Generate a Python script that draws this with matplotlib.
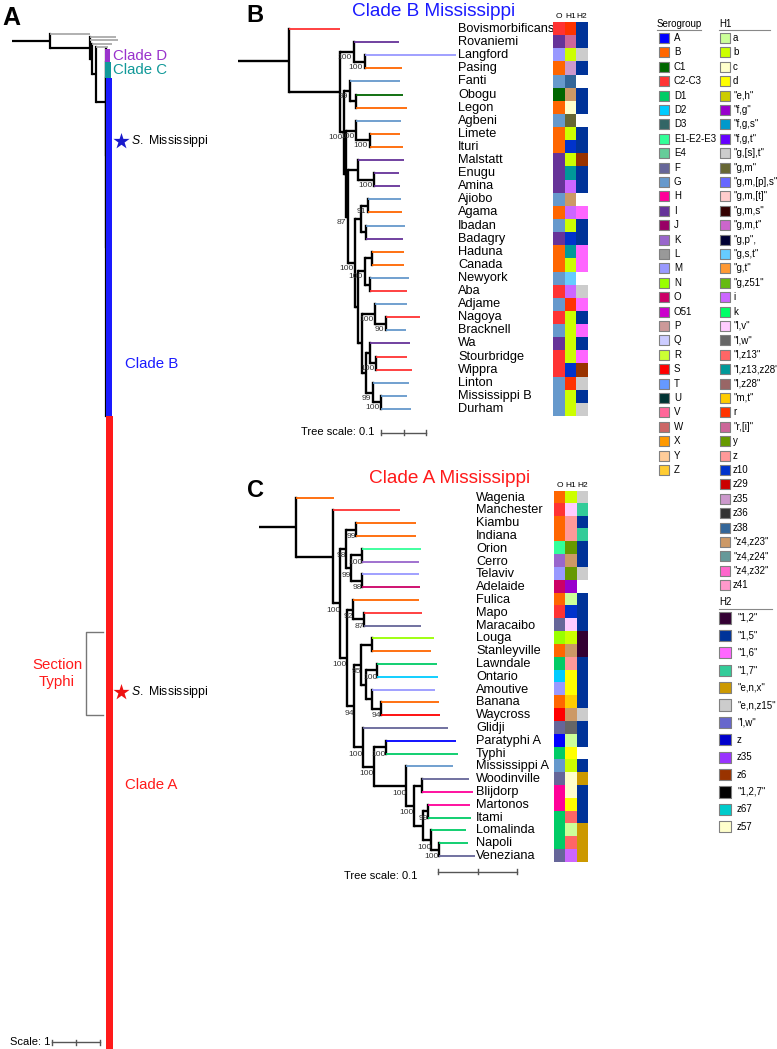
#!/usr/bin/env python

import numpy as np
import matplotlib
matplotlib.use('Agg')
from matplotlib import pyplot as plt
from matplotlib.colors import to_rgb

plt.rcParams['font.family'] = ['Liberation Sans', 'DejaVu Sans']
plt.rcParams['mathtext.fontset'] = 'custom'
plt.rcParams['mathtext.it'] = 'Liberation Sans:italic'
plt.rcParams['mathtext.rm'] = 'Liberation Sans'

W, H = 777, 1049

# ---------------- legend data ----------------
sero_names = ['A', 'B', 'C1', 'C2-C3', 'D1', 'D2', 'D3', 'E1-E2-E3', 'E4', 'F', 'G', 'H', 'I', 'J',
              'K', 'L', 'M', 'N', 'O', 'O51', 'P', 'Q', 'R', 'S', 'T', 'U', 'V', 'W', 'X', 'Y', 'Z']
sero_colors = ['#0000ff', '#ff6600', '#006600', '#ff3333', '#00cc66', '#00ccff', '#336666', '#33ff99',
               '#66cc99', '#666699', '#6699cc', '#ff0099', '#663399', '#990066', '#9966cc', '#999999',
               '#9999ff', '#99ff00', '#cc0066', '#cc00cc', '#cc9999', '#ccccff', '#ccff33', '#ff0000',
               '#6699ff', '#003333', '#ff6699', '#cc6666', '#ff9900', '#ffcc99', '#ffcc33']

h1_names = ['a', 'b', 'c', 'd', 'e,h', 'f,g', 'f,g,s', 'f,g,t', 'g,[s],t', 'g,m', 'g,m,[p],s', 'g,m,[t]',
            'g,m,s', 'g,m,t', 'g,p', 'g,s,t', 'g,t', 'g,z51', 'i', 'k', 'l,v', 'l,w', 'l,z13', 'l,z13,z28',
            'l,z28', 'm,t', 'r', 'r,[i]', 'y', 'z', 'z10', 'z29', 'z35', 'z36', 'z38', 'z4,z23', 'z4,z24',
            'z4,z32', 'z41']
h1_colors = ['#ccff99', '#ccff00', '#ffffcc', '#ffff00', '#cccc00', '#9900cc', '#0099cc', '#6600ff',
             '#cccccc', '#666633', '#6666ff', '#ffcccc', '#330000', '#cc66cc', '#000033', '#66ccff',
             '#ff9933', '#66bb11', '#cc66ff', '#00ff66', '#ffccff', '#666666', '#ff6666', '#009999',
             '#996666', '#ffcc00', '#ff3300', '#cc6699', '#669900', '#ff9999', '#0033cc', '#cc0000',
             '#cc99cc', '#333333', '#336699', '#cc9966', '#669999', '#ff66cc', '#ff99cc']

h2_names = ['1,2', '1,5', '1,6', '1,7', 'e,n,x', 'e,n,z15', 'l,w', 'z', 'z35', 'z6', '1,2,7', 'z67', 'z57']
h2_colors = ['#330033', '#003399', '#ff66ff', '#33cc99', '#cc9900', '#cccccc', '#6666cc', '#0000cc',
             '#9933ff', '#993300', '#000000', '#00cccc', '#ffffcc']

# ---------------- panel B: clade B Mississippi ----------------
b_newick = ("(Bovismorbificans:0.1126,((Rovaniemi:0.1007,(Langford:0.2037,Pasing:0.0837)100:0.0244)100:0.0311,"
            "((Fanti:0.1126,(Obogu:0.1037,Legon:0.1126):0.0148)99:0.0126,"
            "((Agbeni:0.1000,(Limete:0.0667,Ituri:0.0741)100:0.0296)100:0.0222,"
            "((Malstatt:0.1022,(Enugu:0.0556,Amina:0.0570)100:0.0356):0.0215,"
            "(((Ajiobo:0.0741,Agama:0.0763)91:0.0163,(Ibadan:0.0881,Badagry:0.0830):0.0111):0.0119,"
            "(((Haduna:0.0704,Canada:0.0704):0.0170,(Newyork:0.0867,Aba:0.0837):0.0111)100:0.0141,"
            "((Adjame:0.0704,(Nagoya:0.0741,Bracknell:0.0430)90:0.0244)100:0.0289,"
            "((Wa:0.0874,(Stourbridge:0.0689,Wippra:0.0793)100:0.0133):0.0104,"
            "(Linton:0.0793,(Mississippi_B:0.0570,Durham:0.0667)100:0.0185)99:0.0163):0.0074"
            "):0.0089):0.0067)100:0.0156)87:0.0044):0.0052)100:0.0096):0.1126):0.1133;")

b_names = ['Bovismorbificans', 'Rovaniemi', 'Langford', 'Pasing', 'Fanti', 'Obogu', 'Legon', 'Agbeni',
           'Limete', 'Ituri', 'Malstatt', 'Enugu', 'Amina', 'Ajiobo', 'Agama', 'Ibadan', 'Badagry',
           'Haduna', 'Canada', 'Newyork', 'Aba', 'Adjame', 'Nagoya', 'Bracknell', 'Wa', 'Stourbridge',
           'Wippra', 'Linton', 'Mississippi B', 'Durham']
b_o = ['C2-C3', 'I', 'M', 'B', 'G', 'C1', 'B', 'G', 'B', 'B', 'I', 'I', 'I', 'G', 'B', 'G', 'I',
       'B', 'B', 'G', 'C2-C3', 'G', 'C2-C3', 'G', 'I', 'C2-C3', 'C2-C3', 'G', 'G', 'G']
b_h1 = ['r', 'r,[i]', 'b', 'z35', 'z38', 'z4,z23', 'c', 'g,m', 'b', 'z10', 'b', 'l,z13,z28', 'i',
        'z4,z23', 'i', 'b', 'z10', 'l,z13,z28', 'b', 'g,s,t', 'i', 'r', 'b', 'b', 'b', 'b', 'z10',
        'r', 'b', 'b']
b_h2 = ['1,5', '1,5', 'e,n,z15', '1,5', None, '1,5', '1,5', None, '1,5', '1,5', 'z6', '1,5', '1,5',
        None, '1,6', '1,5', '1,5', '1,6', '1,6', None, 'e,n,z15', '1,6', '1,5', '1,6', '1,5', '1,6',
        'z6', 'e,n,z15', '1,5', 'e,n,z15']

# ---------------- panel C: clade A Mississippi ----------------
c_newick = ("(Wagenia:0.0473,(Manchester:0.0844,"
            "(((Kiambu:0.0768,Indiana:0.0768)99:0.0127,"
            "((Orion:0.0738,Cerro:0.0717)100:0.0139,(Telaviv:0.0713,Adelaide:0.0734)98:0.0139)99:0.0072)98:0.0068,"
            "((Fulica:0.0835,(Mapo:0.0738,Maracaibo:0.0722)87:0.0135)92:0.0076,"
            "(((Louga:0.0781,Stanleyville:0.0747):0.0139,"
            "((Lawndale:0.0759,Ontario:0.0768)100:0.0139,(Amoutive:0.0797,(Banana:0.0730,Waycross:0.0738)94:0.0114):0.0076):0.0063)95:0.0089,"
            "(Glidji:0.1076,((Paratyphi_A:0.0895,Typhi:0.0916)100:0.0148,"
            "(Mississippi_A:0.0591,((Woodinville:0.0591,Blijdorp:0.0641):0.0105,"
            "((Martonos:0.0532,Itami:0.0544)99:0.0068,(Lomalinda:0.0443,(Napoli:0.0376,Veneziana:0.0456)100:0.0093)100:0.0105):0.0114"
            ")100:0.0097)100:0.0409)100:0.0139)100:0.0110)94:0.0093)100:0.0084)100:0.0093):0.0464):0.0473;")

c_names = ['Wagenia', 'Manchester', 'Kiambu', 'Indiana', 'Orion', 'Cerro', 'Telaviv', 'Adelaide',
           'Fulica', 'Mapo', 'Maracaibo', 'Louga', 'Stanleyville', 'Lawndale', 'Ontario', 'Amoutive',
           'Banana', 'Waycross', 'Glidji', 'Paratyphi A', 'Typhi', 'Mississippi A', 'Woodinville',
           'Blijdorp', 'Martonos', 'Itami', 'Lomalinda', 'Napoli', 'Veneziana']
c_o = ['B', 'C2-C3', 'B', 'B', 'E1-E2-E3', 'K', 'M', 'O', 'B', 'C2-C3', 'F', 'N', 'B', 'D1', 'D2',
       'M', 'B', 'S', 'F', 'A', 'D1', 'G', 'F', 'H', 'H', 'D1', 'D1', 'D1', 'F']
c_h1 = ['b', 'l,v', 'z', 'z', 'y', 'z4,z23', 'y', 'f,g', 'a', 'z10', 'l,v', 'b', 'z4,z23', 'z', 'd',
        'd', 'm,t', 'z4,z23', 'l,w', 'a', 'd', 'b', 'c', 'c', 'd', 'l,z13', 'a', 'l,z13', 'i']
c_h2 = ['e,n,z15', '1,7', '1,5', '1,7', '1,5', '1,5', 'e,n,z15', None, '1,5', '1,5', '1,5', '1,2',
        '1,2', '1,5', '1,5', '1,5', '1,5', 'e,n,z15', '1,5', '1,5', None, '1,5', 'e,n,x', '1,5',
        '1,5', '1,5', 'e,n,x', 'e,n,x', 'e,n,x']

# ---------------- panel A: whole genus tree, clades collapsed ----------------
a_newick = ("(og1:0.870,(og2:0.565,og3:0.609,(og4:0.435,(og5:0.261,"
            "(Clade_D:0,(Clade_C:0,(Clade_B:0,Clade_A:0):0.005):0.005):0.217):0.087):0.043):0.870):0.826;")
a_clade_names = ['Clade D', 'Clade C', 'Clade B', 'Clade A']
a_clade_tips = [6, 7, 150, 282]
a_clade_depth = [0.09, 0.10, 0.125, 0.145]
a_clade_colors = ['#9933cc', '#119999', '#1a1aff', '#ff1a1a']
a_mississippi_tip = {'Clade B': 28, 'Clade A': 123}
a_section_typhi = (96, 133)   # tips of Clade A

sero_color = dict(zip(sero_names, sero_colors))
h1_color = dict(zip(h1_names, h1_colors))
h2_color = dict(zip(h2_names, h2_colors))


def parse_newick(text):
    text = text.strip().rstrip(';')
    pos = 0

    def read_node():
        nonlocal pos
        node = {'children': [], 'name': '', 'length': 0.0}
        if text[pos] == '(':
            pos += 1
            node['children'].append(read_node())
            while text[pos] == ',':
                pos += 1
                node['children'].append(read_node())
            pos += 1
        start = pos
        while pos < len(text) and text[pos] not in ':,)':
            pos += 1
        node['name'] = text[start:pos].replace('_', ' ')
        if pos < len(text) and text[pos] == ':':
            pos += 1
            start = pos
            while pos < len(text) and text[pos] not in ',)':
                pos += 1
            node['length'] = float(text[start:pos])
        return node

    return read_node()


def layout(node, parent_x, counter, spans=None, collapsed=()):
    spans = spans or {}
    node['x'] = parent_x + node['length']
    if not node['children']:
        span = spans.get(node['name'], 1.0)
        node['top'] = counter[0]
        node['bottom'] = counter[0] + span
        node['y'] = counter[0] if node['name'] in collapsed else counter[0] + span / 2
        counter[0] += span
    else:
        for c in node['children']:
            layout(c, node['x'], counter, spans, collapsed)
        node['y'] = (node['children'][0]['y'] + node['children'][-1]['y']) / 2


def leaves(node):
    if not node['children']:
        return [node]
    out = []
    for c in node['children']:
        out += leaves(c)
    return out


def draw_tree(ax, node, parent_x, leaf_color, lw_int=1.7, lw_leaf=1.3, boot_dy=0.5, boot_fs=6.1,
              boot_dx=0.0):
    is_leaf = not node['children']
    col = leaf_color.get(node['name'], 'black') if is_leaf else 'black'
    if node['x'] > parent_x:
        ax.plot([parent_x, node['x']], [node['y'], node['y']], color=col,
                lw=lw_leaf if is_leaf else lw_int, solid_capstyle='butt', zorder=2)
    if is_leaf:
        return
    ys = [c['y'] for c in node['children']]
    ax.plot([node['x'], node['x']], [min(ys), max(ys)], color='black', lw=lw_int,
            solid_capstyle='projecting', zorder=2)
    if node['name']:
        ax.text(node['x'] - boot_dx, node['y'] + boot_dy, node['name'], ha='right', va='center',
                fontsize=boot_fs, color='#333333')
    for c in node['children']:
        draw_tree(ax, c, node['x'], leaf_color, lw_int, lw_leaf, boot_dy, boot_fs, boot_dx)


def draw_heatmap(ax, o_list, h1_list, h2_list):
    n = len(o_list)
    rgb = np.ones((n, 3, 3))
    for i in range(n):
        rgb[i, 0] = to_rgb(sero_color[o_list[i]])
        if h1_list[i]:
            rgb[i, 1] = to_rgb(h1_color[h1_list[i]])
        if h2_list[i]:
            rgb[i, 2] = to_rgb(h2_color[h2_list[i]])
    ax.imshow(rgb, aspect='auto', interpolation='nearest', extent=(0, 3, n, 0))
    ax.set_xlim(0, 3)
    ax.set_ylim(n, 0)
    for j, lab in enumerate(['O', 'H1', 'H2']):
        ax.text(j + 0.5, -0.15, lab, ha='center', va='bottom', fontsize=6, clip_on=False)
    ax.axis('off')


def scale_bar(ax, x0, x1, y, text_x, text_y, tick):
    ax.plot([x0, x1], [y, y], color='#555555', lw=1, clip_on=False)
    for xt in (x0, (x0 + x1) / 2, x1):
        ax.plot([xt, xt], [y - tick, y + tick], color='#555555', lw=1, clip_on=False)
    ax.text(text_x, text_y, 'Tree scale: 0.1', ha='right', va='center', fontsize=8, clip_on=False)


def px_axes(fig, left, top, right, bottom):
    return fig.add_axes([left / W, 1 - bottom / H, (right - left) / W, (bottom - top) / H])


def legend_text(name):
    if name == 'g,p':
        return '"g,p",'
    return f'"{name}"' if ',' in name else name


def main():
    fig = plt.figure(figsize=(W / 100, H / 100), dpi=100)

    # overlay in pixel units for titles, letters and legends
    ov = fig.add_axes([0, 0, 1, 1])
    ov.set_xlim(0, W)
    ov.set_ylim(H, 0)
    ov.axis('off')

    ov.text(2, 25, 'A', fontsize=18, fontweight='bold', va='baseline')
    ov.text(246, 22, 'B', fontsize=17, fontweight='bold', va='baseline')
    ov.text(247, 497, 'C', fontsize=17, fontweight='bold', va='baseline')
    ov.text(434, 16, 'Clade B Mississippi', fontsize=13.7, color='#1a1aff', ha='center', va='baseline')
    ov.text(450, 483, 'Clade A Mississippi', fontsize=13.7, color='#ff1a1a', ha='center', va='baseline')

    # legends
    legends = [
        ('Serogroup', sero_names, sero_colors, 657, 664, 674, 38, 14.4, 52, 24, 701),
        ('H1', h1_names, h1_colors, 719, 725, 733, 38, 14.4, 52, 24, 770),
    ]
    for title, names, colors, tx, sx, lx, y0, dy, msize, ty, ux in legends:
        ov.text(tx, ty, title, fontsize=7, va='center', ha='left')
        ov.plot([tx, ux], [ty + 6, ty + 6], color='#888888', lw=0.8)
        ys = y0 + dy * np.arange(len(names))
        ov.scatter(np.full(len(names), sx), ys, marker='s', s=msize, c=colors,
                   edgecolors='#808080', linewidths=0.8, zorder=3)
        for y, n in zip(ys, names):
            ov.text(lx, y, legend_text(n), fontsize=7, va='center', ha='left')
    ov.text(719, 602, 'H2', fontsize=7, va='center', ha='left')
    ov.plot([719, 772], [609, 609], color='#888888', lw=0.8)
    ys = 618 + 17.4 * np.arange(len(h2_names))
    ov.scatter(np.full(len(h2_names), 725), ys, marker='s', s=63, c=h2_colors,
               edgecolors='#808080', linewidths=0.8, zorder=3)
    for y, n in zip(ys, h2_names):
        ov.text(737, y, legend_text(n), fontsize=7, va='center', ha='left')

    # panel B tree
    b_tree = parse_newick(b_newick)
    layout(b_tree, 0.0, [0.0])
    ax_b = px_axes(fig, 238, 22.45, 553, 415.55)
    ax_b.set_xlim(0, 0.7)
    ax_b.set_ylim(len(b_names), 0)
    ax_b.axis('off')
    draw_tree(ax_b, b_tree, 0.0, {n: sero_color[o] for n, o in zip(b_names, b_o)},
              boot_dy=0.42, boot_dx=0.004)
    for leaf in leaves(b_tree):
        ax_b.text(0.489, leaf['y'], leaf['name'], fontsize=9.2, va='center', ha='left', clip_on=False)
    scale_bar(ax_b, 0.318, 0.418, 31.32, 0.304, 31.26, 0.2)
    draw_heatmap(px_axes(fig, 553, 22.45, 588, 415.55), b_o, b_h1, b_h2)

    # panel C tree
    c_tree = parse_newick(c_newick)
    layout(c_tree, 0.0, [0.0])
    ax_c = px_axes(fig, 259, 491.3, 554, 862.4)
    ax_c.set_xlim(0, 0.3734)
    ax_c.set_ylim(len(c_names), 0)
    ax_c.axis('off')
    draw_tree(ax_c, c_tree, 0.0, {n: sero_color[o] for n, o in zip(c_names, c_o)}, boot_dy=0.55)
    for leaf in leaves(c_tree):
        ax_c.text(0.2747, leaf['y'], leaf['name'], fontsize=9.2, va='center', ha='left', clip_on=False)
    scale_bar(ax_c, 0.2266, 0.3266, 29.72, 0.2, 30.1, 0.2)
    draw_heatmap(px_axes(fig, 554, 491.3, 588, 862.4), c_o, c_h1, c_h2)

    # panel A tree
    a_tree = parse_newick(a_newick)
    spans = {f'og{i}': 1.5 for i in range(1, 6)}
    spans.update(dict(zip(a_clade_names, a_clade_tips)))
    layout(a_tree, 0.0, [0.0], spans, collapsed=set(a_clade_names))
    ax_a = px_axes(fig, 0, 32, 240, 1049)
    ax_a.set_xlim(-12 / 46, 228 / 46)
    ax_a.set_ylim(1017 / 2.25, 0)
    ax_a.axis('off')
    draw_tree(ax_a, a_tree, 0.0, {f'og{i}': '#aaaaaa' for i in range(1, 6)}, lw_int=1.6, lw_leaf=1.3)

    clade_nodes = {leaf['name']: leaf for leaf in leaves(a_tree)}
    for name, depth, color in zip(a_clade_names, a_clade_depth, a_clade_colors):
        nd = clade_nodes[name]
        ax_a.fill_betweenx([nd['top'], nd['bottom']], nd['x'] - 0.02, nd['x'] + depth,
                           color=color, lw=0, zorder=3)
    for name in ['Clade D', 'Clade C']:
        nd = clade_nodes[name]
        ax_a.text(2.196, (nd['top'] + nd['bottom']) / 2, name, fontsize=10.8,
                  color=a_clade_colors[a_clade_names.index(name)], va='center', ha='left')
    label_tip = {'Clade B': 127, 'Clade A': 164}
    for name, off in label_tip.items():
        nd = clade_nodes[name]
        ax_a.text(2.45, nd['top'] + off, name, fontsize=10.8,
                  color=a_clade_colors[a_clade_names.index(name)], va='center', ha='left')
    star_colors = {'Clade B': '#1a1acc', 'Clade A': '#ee1111'}
    for name, tip in a_mississippi_tip.items():
        y = clade_nodes[name]['top'] + tip
        ax_a.scatter([2.37], [y], marker='*', s=150, color=star_colors[name], lw=0, zorder=4)
        ax_a.text(2.59, y, r'$\it{S.}$ Mississippi', fontsize=8.8, va='center', ha='left')

    nd = clade_nodes['Clade A']
    t0, t1 = nd['top'] + a_section_typhi[0], nd['top'] + a_section_typhi[1]
    ax_a.plot([1.978, 1.609, 1.609, 1.978], [t0, t0, t1, t1], color='#777777', lw=1)
    ax_a.text(0.978, (t0 + t1) / 2, 'Section\nTyphi', fontsize=10.8, color='#ff1a1a',
              ha='center', va='center', linespacing=1.3)

    # scale of panel A
    ya = 449
    ax_a.plot([0.87, 1.91], [ya, ya], color='#555555', lw=1, clip_on=False)
    for xt in (0.87, 1.39, 1.91):
        ax_a.plot([xt, xt], [ya - 1.0, ya + 1.0], color='#555555', lw=1, clip_on=False)
    ax_a.text(0.826, ya, 'Scale: 1', fontsize=8, ha='right', va='center', clip_on=False)

    fig.savefig('out.png', dpi=100)
    plt.close(fig)


if __name__ == '__main__':
    main()
